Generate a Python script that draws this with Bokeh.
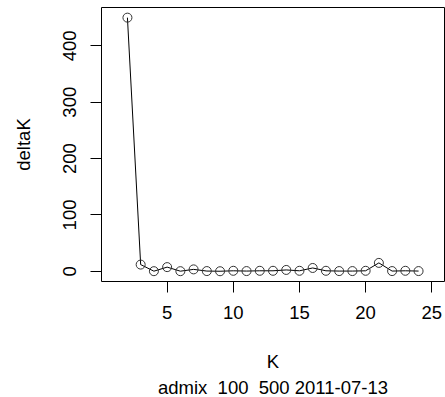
from bokeh.plotting import figure
from bokeh.models import Range1d, FixedTicker, Title
from bokeh.embed import file_html
from bokeh.resources import INLINE

K = [2, 3, 4, 5, 6, 7, 8, 9, 10, 11, 12, 13, 14, 15, 16, 17, 18, 19, 20, 21, 22, 23, 24]
deltaK = [450, 12, 0.3, 7.5, 0.3, 3.5, 0.5, 0.2, 1.0, 0.5, 1.0, 1.0, 2.5, 1.0, 6.0,
          1.0, 0.5, 0.5, 1.0, 15.0, 0.5, 1.0, 0.5]
x_ticks = [5, 10, 15, 20, 25]
y_ticks = [0, 100, 200, 300, 400]
x_label = "K"
y_label = "deltaK"
subtitle = "admix_100_500 2011-07-13"

FONT = "Liberation Sans"
FS = "18.5px"

p = figure(width=445, height=397, output_backend="svg", toolbar_location=None,
           x_range=Range1d(0.04, 25.96), y_range=Range1d(-18, 468),
           min_border_left=101, min_border_right=1, min_border_top=7, min_border_bottom=116)
p.background_fill_color = "white"
p.border_fill_color = "white"
p.outline_line_color = "black"
p.outline_line_width = 1
p.grid.visible = False

p.line(K, deltaK, line_color="black", line_width=1)
p.scatter(K, deltaK, marker="circle", size=9, fill_color=None, line_color="#333333", line_width=1)

for ax in (p.xaxis[0], p.yaxis[0]):
    ax.axis_line_color = None
    ax.major_tick_in = 0
    ax.major_tick_out = 11
    ax.minor_tick_line_color = None
    ax.major_tick_line_color = "black"
    ax.major_label_text_font = FONT
    ax.major_label_text_font_size = FS
    ax.major_label_text_color = "black"
    ax.axis_label_text_font = FONT
    ax.axis_label_text_font_size = FS
    ax.axis_label_text_font_style = "normal"
    ax.axis_label_text_color = "black"

p.xaxis[0].ticker = FixedTicker(ticks=x_ticks)
p.yaxis[0].ticker = FixedTicker(ticks=y_ticks)
p.yaxis[0].major_label_orientation = "vertical"
p.xaxis[0].axis_label = x_label
p.yaxis[0].axis_label = y_label
p.xaxis[0].major_label_standoff = 13
p.yaxis[0].major_label_standoff = 14
p.xaxis[0].axis_label_standoff = 29
p.yaxis[0].axis_label_standoff = 27

t = Title(text=subtitle, align="center", text_font=FONT, text_font_size=FS,
          text_font_style="normal", text_color="black", standoff=0)
p.add_layout(t, "below")

open("out.html", "w").write(file_html(p, INLINE))
